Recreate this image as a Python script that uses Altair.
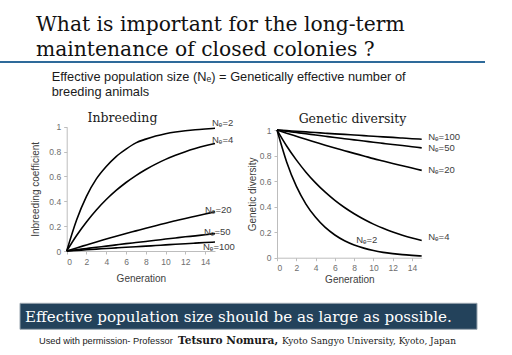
import altair as alt
import pandas as pd

# ---------------- data ----------------
generations = list(range(16))

inb_ne2 = [0.0, 0.25, 0.44, 0.58, 0.68, 0.76, 0.82, 0.87, 0.90, 0.925, 0.944, 0.958, 0.968, 0.976, 0.982, 0.987]
inb_ne4 = [0.0, 0.125, 0.234, 0.33, 0.414, 0.487, 0.551, 0.607, 0.656, 0.699, 0.737, 0.77, 0.799, 0.824, 0.846, 0.865]
inb_ne20 = [0.0, 0.025, 0.049, 0.073, 0.096, 0.119, 0.141, 0.162, 0.183, 0.203, 0.224, 0.243, 0.262, 0.28, 0.298, 0.316]
inb_ne50 = [0.0, 0.01, 0.02, 0.03, 0.039, 0.049, 0.059, 0.068, 0.077, 0.086, 0.096, 0.105, 0.114, 0.122, 0.131, 0.14]
inb_ne100 = [0.0, 0.005, 0.01, 0.015, 0.02, 0.025, 0.03, 0.034, 0.039, 0.044, 0.049, 0.054, 0.058, 0.063, 0.068, 0.072]

div_ne100 = [1.0, 0.995, 0.99, 0.985, 0.98, 0.975, 0.97, 0.966, 0.961, 0.956, 0.951, 0.946, 0.942, 0.937, 0.932, 0.928]
div_ne50 = [1.0, 0.99, 0.98, 0.97, 0.961, 0.951, 0.941, 0.932, 0.923, 0.914, 0.904, 0.895, 0.886, 0.878, 0.869, 0.86]
div_ne20 = [1.0, 0.975, 0.951, 0.927, 0.904, 0.881, 0.859, 0.838, 0.817, 0.797, 0.776, 0.757, 0.738, 0.72, 0.702, 0.684]
div_ne4 = [1.0, 0.875, 0.766, 0.67, 0.586, 0.513, 0.449, 0.393, 0.344, 0.301, 0.263, 0.23, 0.201, 0.176, 0.154, 0.135]
div_ne2 = [1.0, 0.75, 0.56, 0.42, 0.316, 0.237, 0.178, 0.133, 0.1, 0.075, 0.056, 0.042, 0.032, 0.024, 0.018, 0.013]

inb_series = ["Nₑ=2", "Nₑ=4", "Nₑ=20", "Nₑ=50", "Nₑ=100"]
div_series = ["Nₑ=100", "Nₑ=50", "Nₑ=20", "Nₑ=4", "Nₑ=2"]
x_ticks = [0, 2, 4, 6, 8, 10, 12, 14]
y_ticks = [0, 0.2, 0.4, 0.6, 0.8, 1]

title_lines = ["What is important for the long-term", "maintenance of closed colonies ?"]
subtitle_lines = ["Effective population size (Nₑ) = Genetically effective number of", "breeding animals"]
panel_titles = ["Inbreeding", "Genetic diversity"]
axis_titles = ["Inbreeding coefficient", "Genetic diversity", "Generation"]
banner_text = "Effective population size should be as large as possible."
footer_parts = ["Used with permission- Professor", "Tetsuro Nomura,", "Kyoto Sangyo University, Kyoto, Japan"]

# ---------------- tables ----------------
def long_table(names, arrays):
    rows = []
    for name, arr in zip(names, arrays):
        for g, v in zip(generations, arr):
            rows.append({"gen": g, "val": v, "series": name})
    return pd.DataFrame(rows)

inb_df = long_table(inb_series, [inb_ne2, inb_ne4, inb_ne20, inb_ne50, inb_ne100])
div_df = long_table(div_series, [div_ne100, div_ne50, div_ne20, div_ne4, div_ne2])

SANS = "Liberation Sans"
SERIF = "DejaVu Serif"
W, H = 512, 355

axis_style = dict(
    grid=False, domainColor="#bdbdbd", tickColor="#bdbdbd", tickSize=3,
    labelColor="#6e6e6e", labelFont=SANS, labelFontSize=8.5, labelPadding=3,
    titleColor="#404040", titleFont=SANS, titleFontSize=10, titleFontWeight="normal",
)


def panel(df, xr, yr, x_title_pad, y_title, y_title_pad, label_offsets, extra_label=None):
    x_axis_y = yr[0]
    x = alt.X("gen:Q", scale=alt.Scale(domain=[0, 15], range=xr, nice=False),
              axis=alt.Axis(values=x_ticks, orient="bottom", offset=x_axis_y - H,
                            title=axis_titles[2], titlePadding=x_title_pad, **axis_style))
    y = alt.Y("val:Q", scale=alt.Scale(domain=[0, 1], range=yr, nice=False),
              axis=alt.Axis(values=y_ticks, format="~g", orient="left", offset=-xr[0],
                            title=y_title, titlePadding=y_title_pad, **axis_style))
    lines = alt.Chart(df).mark_line(color="black", strokeWidth=1.6, interpolate="monotone").encode(
        x=x, y=y, detail="series:N")
    layers = [lines]
    for name, (dx, dy) in label_offsets.items():
        end = df[(df.series == name) & (df.gen == 15)]
        layers.append(alt.Chart(end).mark_text(
            align="left", baseline="middle", dx=dx, dy=dy, font=SANS, fontSize=9.5, color="#404040"
        ).encode(x="gen:Q", y="val:Q", text="series:N"))
    if extra_label is not None:
        name, gen, (dx, dy) = extra_label
        pt = df[(df.series == name) & (df.gen == gen)]
        layers.append(alt.Chart(pt).mark_text(
            align="left", baseline="middle", dx=dx, dy=dy, font=SANS, fontSize=9.5, color="#404040"
        ).encode(x="gen:Q", y="val:Q", text="series:N"))
    return alt.layer(*layers)


left = panel(inb_df, [66.7, 215], [251, 126.7], 8, axis_titles[0], 8,
             {"Nₑ=2": (-3, -5), "Nₑ=4": (-3, -3), "Nₑ=20": (-10, -2), "Nₑ=50": (-11, -2), "Nₑ=100": (-12, 5)})
right = panel(div_df, [277, 421.7], [257.7, 130], 2, axis_titles[1], 2,
              {"Nₑ=100": (6.5, -2), "Nₑ=50": (6.5, 0), "Nₑ=20": (6.5, 0), "Nₑ=4": (6.5, -3)},
              extra_label=("Nₑ=2", 8, (2, -5)))


def note(text, x, y, font, size, color="#1a1a1a", align="left", baseline="middle", weight="normal"):
    return alt.Chart(pd.DataFrame({"t": [text]})).mark_text(
        font=font, fontSize=size, color=color, align=align, baseline=baseline, fontWeight=weight
    ).encode(x=alt.value(x), y=alt.value(y), text="t:N")


one = pd.DataFrame({"k": [0]})
rule = alt.Chart(one).mark_rule(color="#2e6a9a", strokeWidth=2).encode(
    x=alt.value(0), x2=alt.value(485), y=alt.value(62))
banner = alt.Chart(one).mark_rect(fill="#23425b", stroke="#9aa6b0", strokeWidth=1).encode(
    x=alt.value(20), x2=alt.value(477), y=alt.value(303.3), y2=alt.value(329.3))

notes = [
    note(title_lines[0], 36, 31, SERIF, 20.3, color="#111111", baseline="alphabetic"),
    note(title_lines[1], 36, 56, SERIF, 20.3, color="#111111", baseline="alphabetic"),
    note(subtitle_lines[0], 51.7, 77.3, SANS, 12.8),
    note(subtitle_lines[1], 51.7, 92.3, SANS, 12.8),
    note(panel_titles[0], 122.5, 118.3, SERIF, 12.5, align="center"),
    note(panel_titles[1], 352.5, 119, SERIF, 12.5, align="center"),
    note(banner_text, 25, 316.5, SERIF, 15.1, color="white"),
    note(footer_parts[0], 39, 341, SANS, 9.3),
    note(footer_parts[1], 178, 341, SERIF, 10.6, weight="bold"),
    note(footer_parts[2], 282, 341, SERIF, 9),
]

chart = alt.layer(left, right, rule, banner, *notes).resolve_scale(
    x="independent", y="independent"
).properties(
    width=W, height=H, autosize=alt.AutoSizeParams(type="none"), padding=0, background="white"
).configure_view(stroke=None)

chart.save("out.html", embed_options={"renderer": "svg", "actions": False})
